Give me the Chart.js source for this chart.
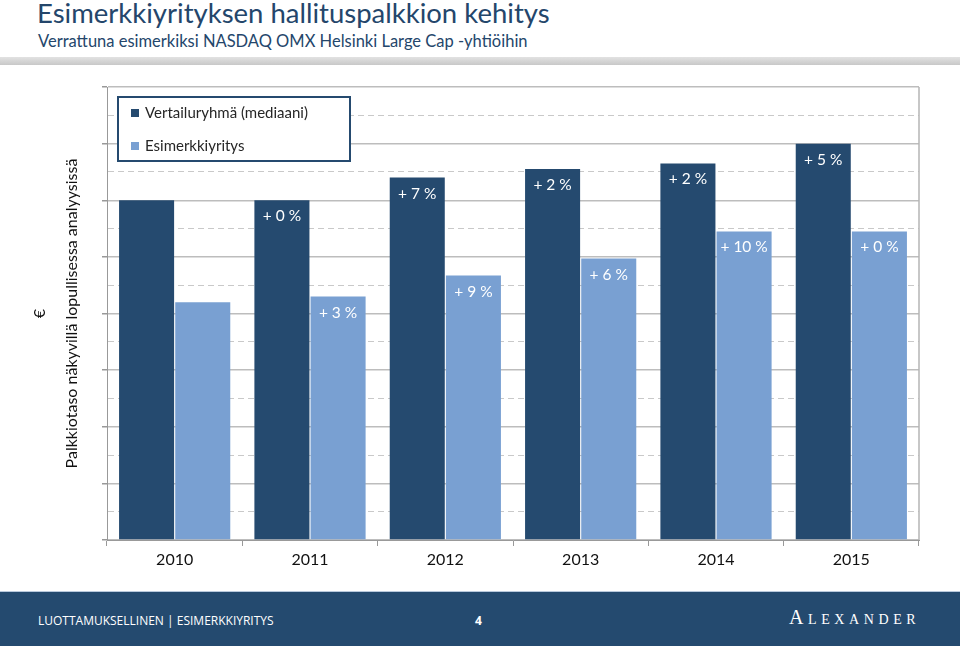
<!DOCTYPE html>
<html>
<head>
<meta charset="utf-8">
<script src="https://cdn.jsdelivr.net/npm/chart.js@4.4.1/dist/chart.umd.min.js"></script>
<style>
    body { margin: 0; width: 960px; height: 646px; overflow: hidden; background: #fff; font-family: Lato, "Open Sans", sans-serif; position: relative; }
    #title { position: absolute; left: 37px; top: -4px; font-size: 27.5px; color: #24466B; white-space: nowrap; }
    #subtitle { position: absolute; left: 38px; top: 31px; font-size: 16.5px; color: #24466B; white-space: nowrap; }
    #rule { position: absolute; left: 0; top: 57px; width: 960px; height: 8px; background: linear-gradient(#e2e2e2, #c8c8c8); }
    #chart-box { position: absolute; left: 0; top: 70px; width: 960px; height: 515px; }
    #footer { position: absolute; left: 0; top: 591px; width: 960px; height: 55px; background: #244A6F; border-top: 1px solid #b9c9dc; }
    #foot-left { position: absolute; left: 38px; top: 20px; font-family: "Liberation Sans Narrow", "Open Sans", sans-serif; font-size: 12px; color: #fff; }
    #foot-page { position: absolute; left: 475px; top: 20px; font-family: "Liberation Sans Narrow", "Open Sans", sans-serif; font-size: 12px; font-weight: bold; color: #fff; }
    #foot-logo { position: absolute; left: 789px; top: 14px; font-family: "Liberation Serif", serif; font-size: 20px; color: #fff; font-variant: small-caps; letter-spacing: 4.6px; }
</style>
</head>
<body>
<div id="title">Esimerkkiyrityksen hallituspalkkion kehitys</div>
<div id="subtitle">Verrattuna esimerkiksi NASDAQ OMX Helsinki Large Cap -yhtiöihin</div>
<div id="rule"></div>
<div id="chart-box"><canvas id="salary-chart"></canvas></div>
<div id="footer">
    <div id="foot-left">LUOTTAMUKSELLINEN | ESIMERKKIYRITYS</div>
    <div id="foot-page">4</div>
    <div id="foot-logo">Alexander</div>
</div>
<script>
const years = ['2010', '2011', '2012', '2013', '2014', '2015'];
const peerMedian = [6.0, 6.0, 6.4, 6.55, 6.65, 7.0];
const exampleCompany = [4.2, 4.3, 4.67, 4.97, 5.45, 5.45];
const peerChange = ['', '+ 0 %', '+ 7 %', '+ 2 %', '+ 2 %', '+ 5 %'];
const companyChange = ['', '+ 3 %', '+ 9 %', '+ 6 %', '+ 10 %', '+ 0 %'];
const seriesNames = ['Vertailuryhmä (mediaani)', 'Esimerkkiyritys'];
const yTitle = ['€', 'Palkkiotaso näkyvillä lopullisessa analyysissä'];

const darkBlue = '#254A6F';
const lightBlue = '#79A0D2';

// labels inside the top of each bar
const barLabels = {
    id: 'barLabels',
    afterDatasetsDraw(chart) {
        const ctx = chart.ctx;
        const texts = [peerChange, companyChange];
        ctx.save();
        ctx.font = '15.5px Lato';
        ctx.fillStyle = '#fff';
        ctx.textAlign = 'center';
        ctx.textBaseline = 'middle';
        chart.data.datasets.forEach((ds, i) => {
            chart.getDatasetMeta(i).data.forEach((bar, j) => {
                if (texts[i][j]) ctx.fillText(texts[i][j], bar.x, bar.y + 16);
            });
        });
        ctx.restore();
    }
};

// boxed legend in the upper left corner of the plot
const boxLegend = {
    id: 'boxLegend',
    afterDraw(chart) {
        const ctx = chart.ctx;
        const area = chart.chartArea;
        const x = area.left + 11, y = area.top + 10;
        ctx.save();
        ctx.fillStyle = '#fff';
        ctx.fillRect(x, y, 232, 64);
        ctx.strokeStyle = darkBlue;
        ctx.lineWidth = 2;
        ctx.strokeRect(x, y, 232, 64);
        ctx.font = '15px Lato';
        ctx.textBaseline = 'middle';
        chart.data.datasets.forEach((ds, i) => {
            const cy = y + 16 + i * 33;
            ctx.fillStyle = ds.backgroundColor;
            ctx.fillRect(x + 13, cy - 4, 8, 8);
            ctx.fillStyle = '#262626';
            ctx.fillText(ds.label, x + 27, cy);
        });
        ctx.restore();
    }
};

// right-hand frame line
const frame = {
    id: 'frame',
    beforeDatasetsDraw(chart) {
        const ctx = chart.ctx;
        const a = chart.chartArea;
        ctx.save();
        ctx.strokeStyle = '#b5b5b5';
        ctx.lineWidth = 1.5;
        ctx.beginPath();
        ctx.moveTo(a.right, a.top);
        ctx.lineTo(a.right, a.bottom);
        ctx.stroke();
        ctx.restore();
    }
};

new Chart(document.getElementById('salary-chart'), {
    type: 'bar',
    data: {
        labels: years,
        datasets: [
            { label: seriesNames[0], data: peerMedian, backgroundColor: darkBlue },
            { label: seriesNames[1], data: exampleCompany, backgroundColor: lightBlue }
        ]
    },
    options: {
        responsive: true,
        maintainAspectRatio: false,
        animation: false,
        categoryPercentage: 0.83,
        barPercentage: 0.98,
        layout: { padding: { top: 17, right: 41, left: 24, bottom: 0 } },
        plugins: {
            legend: { display: false },
            tooltip: { enabled: false }
        },
        scales: {
            x: {
                grid: { drawOnChartArea: false, tickLength: 6, color: '#999' },
                border: { color: '#999' },
                ticks: { color: '#111', font: { family: 'Lato', size: 16 }, padding: 4 },
                afterFit(scale) { scale.height = 45; }
            },
            y: {
                min: 0,
                max: 8,
                ticks: { stepSize: 0.5, display: false },
                grid: {
                    tickLength: 5,
                    color: (c) => Number.isInteger(c.tick.value) ? '#bdbdbd' : '#c9c9c9',
                    tickColor: (c) => Number.isInteger(c.tick.value) ? '#999' : 'rgba(0,0,0,0)',
                    lineWidth: (c) => Number.isInteger(c.tick.value) ? 1.5 : 1
                },
                border: {
                    color: '#999',
                    dash: (c) => Number.isInteger(c.tick.value) ? [] : [6, 4]
                },
                title: {
                    display: true,
                    text: yTitle,
                    color: '#111',
                    font: { family: 'Lato', size: 16, lineHeight: 2.0 },
                    padding: 0
                },
                afterFit(scale) { scale.width = 83; }
            }
        }
    },
    plugins: [frame, barLabels, boxLegend]
});
</script>
</body>
</html>
